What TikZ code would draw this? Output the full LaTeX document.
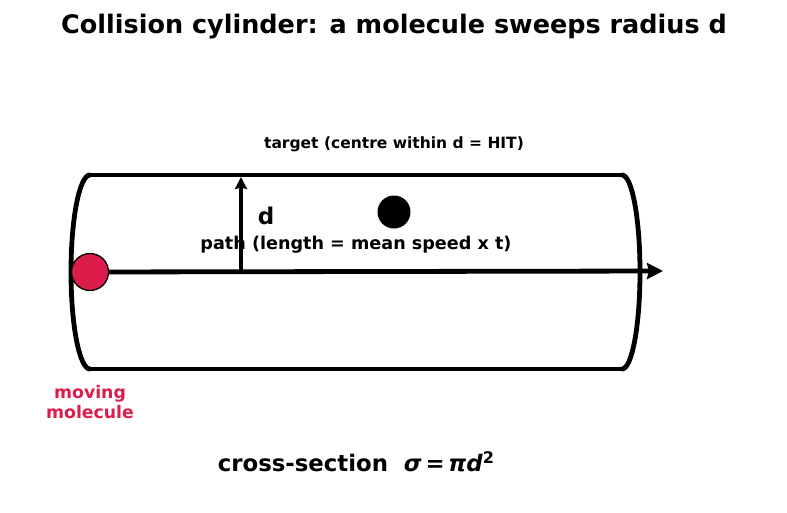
\documentclass[tikz,border=0pt]{standalone}
\usepackage{fontspec}
\setmainfont{DejaVu Sans}
\usepackage{tikz}
\usetikzlibrary{positioning,arrows.meta,calc}
\usepackage{xcolor}
\definecolor{molred}{HTML}{DC1C4B}

\begin{document}
\begin{tikzpicture}[
    x=1pt, y=-1pt,
    wall/.style={line width=4.8pt, line cap=round},
    molecule/.style={circle, draw=black, line width=1.3pt, fill=molred, minimum size=37pt, inner sep=0pt},
    target/.style={circle, fill=black, minimum size=33pt, inner sep=0pt},
    lbl/.style={inner sep=0pt},
    >=Stealth
]
\useasboundingbox (0,0) rectangle (787,512);

% title
\node[font=\bfseries\fontsize{25.5}{30}\selectfont] (title) at (394,27) {Collision cylinder: a molecule sweeps radius d};

% cylinder
\draw[wall] (90,175) -- (622,175);
\draw[wall] (90,369) -- (622,369);
\draw[wall] (90,175) arc[start angle=-90, end angle=-270, x radius=19, y radius=97];
\draw[wall] (622,175) arc[start angle=-90, end angle=90, x radius=18, y radius=97];

% path and molecules
\coordinate (pathend) at (663,271);
\node[molecule] (mol) at (90,272) {};
\draw[line width=4.8pt, -{Stealth[length=16pt, width=16pt, inset=2pt]}] (mol) -- (pathend);
\node[target] (tgt) at (394,212) {};

% radius arrow
\coordinate (dbase) at (241,271);
\coordinate (dtop) at (241,177);
\draw[line width=3.4pt, -{Stealth[length=12pt, width=12pt, inset=1.5pt]}] (dbase) -- (dtop);
\node[font=\bfseries\fontsize{23}{26}\selectfont] (dlbl) at (266,216) {d};

% labels
\node[lbl, font=\bfseries\fontsize{15.5}{18}\selectfont] (tgtlbl) at (394,144) {target (centre within d = HIT)};
\node[lbl, font=\bfseries\fontsize{17.6}{20}\selectfont] (pathlbl) at (356,245) {path (length = mean speed x t)};
\node[lbl, text=molred, align=center, font=\bfseries\fontsize{17.3}{20}\selectfont] (mollbl) at (90,402) {moving\\molecule};
\node[font=\bfseries\fontsize{22.8}{26}\selectfont] (xsec) at (356,462) {cross-section\ \ \textit{σ\,=\,πd}\raisebox{8pt}{\fontsize{16}{18}\selectfont 2}};
\end{tikzpicture}
\end{document}
